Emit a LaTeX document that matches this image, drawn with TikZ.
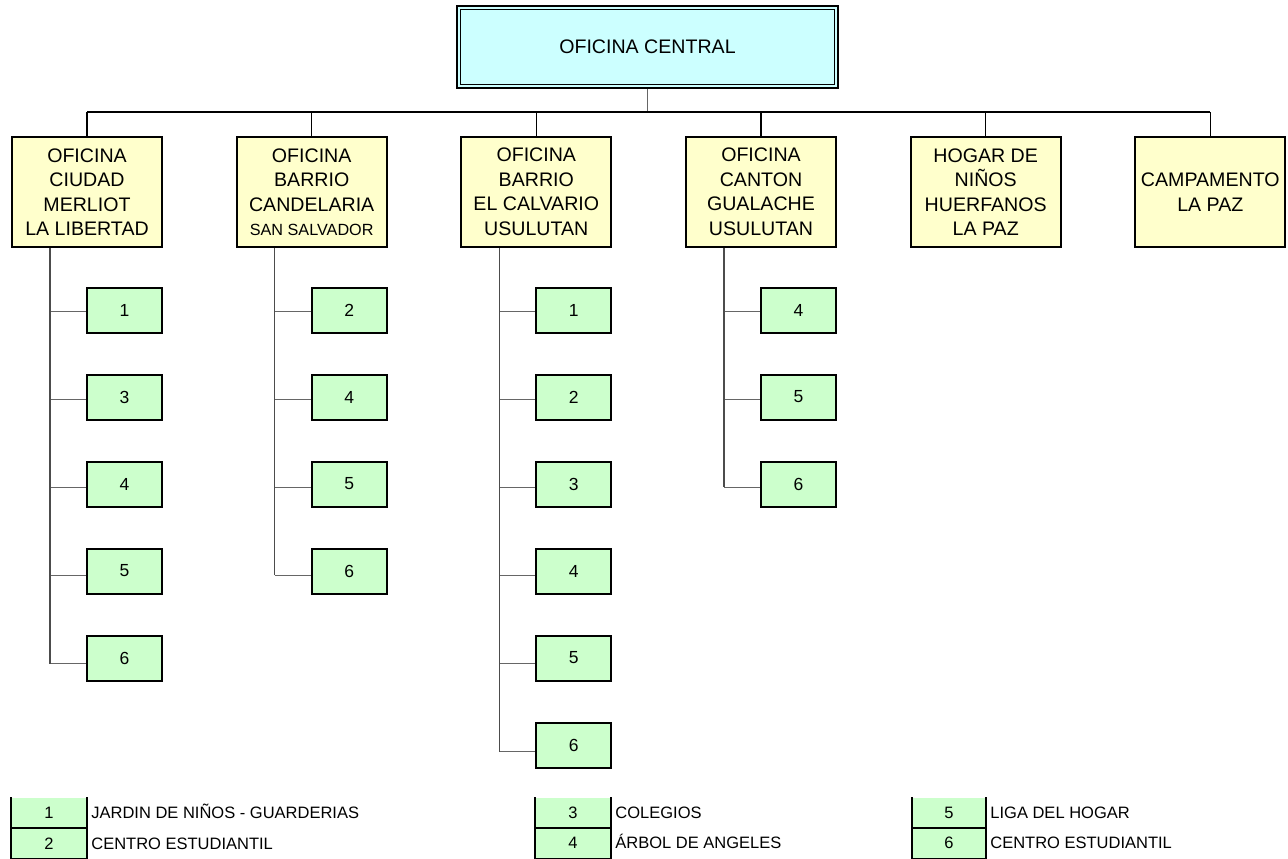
\documentclass[tikz,border=0pt]{standalone}
\usepackage{fontspec}
\setmainfont{Liberation Sans}
\definecolor{officeyellow}{HTML}{FFFFCC}
\definecolor{centralcyan}{HTML}{CCFFFF}
\definecolor{unitgreen}{HTML}{CCFFCC}
\begin{document}
\begin{tikzpicture}[x=1pt,y=-1pt,
  office/.style={draw=black, line width=2pt, fill=officeyellow, minimum width=150pt,
    minimum height=110pt, align=center, inner sep=1pt, font=\fontsize{19.6}{24.5}\selectfont},
  headoffice/.style={draw=black, line width=2.5pt, fill=centralcyan, minimum width=381pt,
    minimum height=82pt, font=\fontsize{19.6}{24}\selectfont},
  unit/.style={draw=black, line width=2pt, fill=unitgreen, minimum width=75pt,
    minimum height=45pt, inner sep=0pt, font=\fontsize{17.5}{20}\selectfont},
  key/.style={fill=unitgreen, minimum height=30.5pt, inner sep=0pt,
    font=\fontsize{16.5}{19}\selectfont},
  keytext/.style={anchor=base west, inner sep=0pt, font=\fontsize{16.5}{19}\selectfont},
  keyline/.style={line width=1.8pt, black},
  bus/.style={line width=1.3pt, black},
  spine/.style={line width=1.5pt, black!70},
  twig/.style={line width=1pt, black!60},
]
\useasboundingbox[fill=white] (0,0) rectangle (1288,859);

% head office with double frame
\node[headoffice] (central) at (647.5,47) {OFICINA CENTRAL};
\draw[line width=1.3pt] ([shift={(4.5pt,-4.5pt)}]central.north west)
  rectangle ([shift={(-4.5pt,4.5pt)}]central.south east);

% branch offices
\node[office] (o1) at (87,192)    {OFICINA\\CIUDAD\\MERLIOT\\LA LIBERTAD};
\node[office] (o2) at (311.7,192) {OFICINA\\BARRIO\\CANDELARIA\\{\fontsize{16.2}{19}\selectfont SAN SALVADOR}};
\node[office] (o3) at (536.3,192) {OFICINA\\BARRIO\\EL CALVARIO\\USULUTAN};
\node[office] (o4) at (761,192)   {OFICINA\\CANTON\\GUALACHE\\USULUTAN};
\node[office] (o5) at (985.7,192) {HOGAR DE\\NIÑOS\\HUERFANOS\\LA PAZ};
\node[office] (o6) at (1210.3,192){CAMPAMENTO\\LA PAZ};

% distribution bus
\coordinate (busL) at (87,112);
\coordinate (busR) at (1210.3,112);
\draw[twig] (central.south) -- (central.south |- busL);
\draw[bus] (busL) -- (busR);
\foreach \o in {1,...,6}
  \draw[bus] (o\o.north |- busL) -- (o\o.north);

% programmes under each office
\foreach \col/\cx/\labels/\last in {1/87/{1,3,4,5,6}/5, 2/311.7/{2,4,5,6}/4,
    3/536.3/{1,2,3,4,5,6}/6, 4/761/{4,5,6}/3} {
  \coordinate (sp\col) at ([xshift=-37pt]o\col.south);
  \foreach \n [count=\r] in \labels {
    \node[unit] (u\col-\r) at ({\cx+37.5},{310+87*(\r-1)}) {\n};
    \coordinate (j\col-\r) at ([yshift={-1.1pt*\r}]u\col-\r.west);
    \draw[twig] (j\col-\r -| sp\col) -- (j\col-\r);
  }
  \draw[spine] (sp\col) -- (sp\col |- j\col-\last);
}

% key
\node[key, minimum width=76pt] (k1) at (49,812.75)  {1};
\node[key, minimum width=76pt] (k2) at (49,843.25)  {2};
\node[key, minimum width=76pt] (k3) at (573,812.75) {3};
\node[key, minimum width=76pt] (k4) at (573,843.25) {4};
\node[key, minimum width=74pt] (k5) at (949,812.75) {5};
\node[key, minimum width=74pt] (k6) at (949,843.25) {6};
\foreach \a/\b in {k1/k2, k3/k4, k5/k6} {
  \draw[keyline] (\a.north west) -- (\b.south west) -- (\b.south east) -- (\a.north east);
  \draw[keyline] (\a.south west) -- (\a.south east);
}
\node[keytext] (t1) at ([xshift=4pt]k1.base east) {JARDIN DE NIÑOS - GUARDERIAS};
\node[keytext] (t2) at ([xshift=4pt]k2.base east) {CENTRO ESTUDIANTIL};
\node[keytext] (t3) at ([xshift=4pt]k3.base east) {COLEGIOS};
\node[keytext] (t4) at ([xshift=4pt]k4.base east) {ÁRBOL DE ANGELES};
\node[keytext] (t5) at ([xshift=4pt]k5.base east) {LIGA DEL HOGAR};
\node[keytext] (t6) at ([xshift=4pt]k6.base east) {CENTRO ESTUDIANTIL};
\end{tikzpicture}
\end{document}
